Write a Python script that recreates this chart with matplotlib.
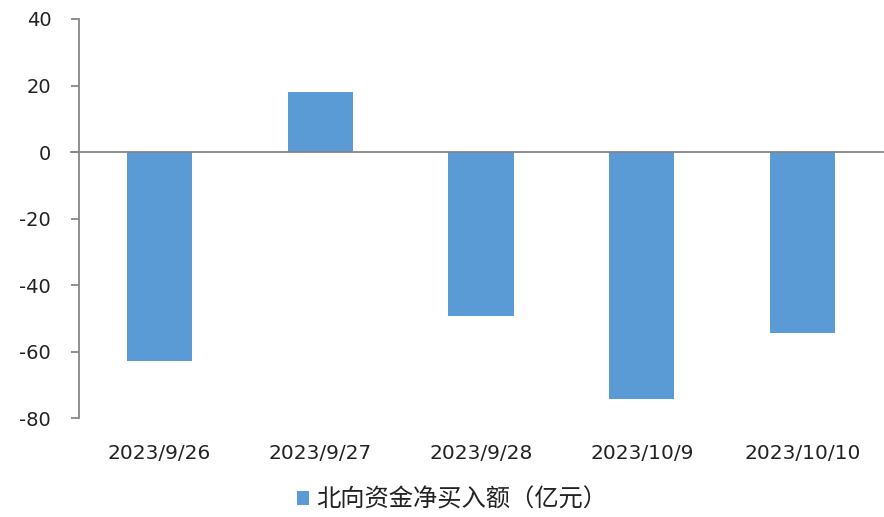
import matplotlib
matplotlib.use("Agg")
import matplotlib.pyplot as plt
from matplotlib.patches import Patch

plt.rcParams['font.family'] = ['Noto Sans CJK SC', 'DejaVu Sans']

categories = ["2023/9/26", "2023/9/27", "2023/9/28", "2023/10/9", "2023/10/10"]
values = [-62.7, 18.1, -49.4, -74.2, -54.4]
yticks = [-80, -60, -40, -20, 0, 20, 40]
series_name = "北向资金净买入额（亿元）"

bar_color = "#5B9BD5"
axis_color = "#868686"
text_color = "#222222"

fig = plt.figure(figsize=(8.84, 5.17), dpi=100)
ax = fig.add_axes([79/884, 1-418.3/517, (883-79)/884, (418.3-19)/517])

x = list(range(len(categories)))
ax.bar(x, values, width=0.405, color=bar_color, zorder=2)
ax.set_xlim(-0.5, len(categories)-0.5)
ax.set_ylim(-80, 40)
ax.set_yticks(yticks)
ax.set_yticklabels([str(v) for v in yticks], fontsize=14, color=text_color,
                   family=['DejaVu Sans'])
ax.set_xticks(x)
ax.set_xticklabels(categories, fontsize=14.5, color=text_color, family=['DejaVu Sans'])

for s in ['top', 'right', 'bottom']:
    ax.spines[s].set_visible(False)
ax.spines['left'].set_color(axis_color)
ax.spines['left'].set_linewidth(1.3)
ax.axhline(0, color=axis_color, linewidth=1.3, zorder=3,
           xmin=-8/804, clip_on=False)
ax.tick_params(axis='y', length=6, width=1.3, color=axis_color, pad=14)
ax.tick_params(axis='x', length=0, pad=18.5)

handle = Patch(facecolor=bar_color, edgecolor='none')
fig.legend([handle], [series_name], loc='center', bbox_to_anchor=(452/884, 1-500/517),
           frameon=False, fontsize=17.5, handlelength=0.5, handleheight=0.5,
           handletextpad=0.3, labelcolor=text_color)

fig.savefig("out.png", dpi=100)
